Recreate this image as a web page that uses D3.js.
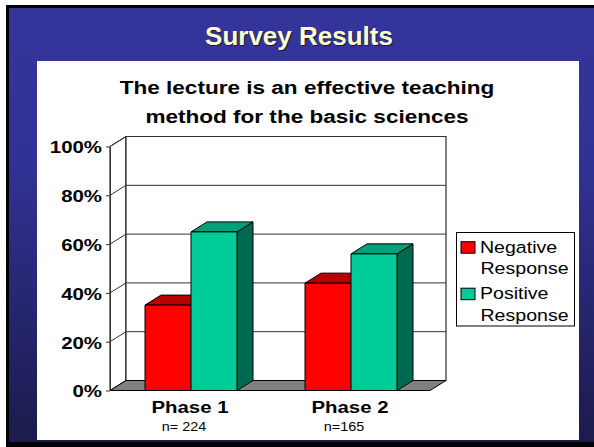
<!DOCTYPE html>
<html><head><meta charset="utf-8">
<script src="https://cdn.jsdelivr.net/npm/d3@7"></script>
<style>html,body{margin:0;padding:0;background:#fff;} svg{display:block}</style>
</head><body>
<script>
// ---- data ----
const categories = ["Phase 1", "Phase 2"];
const sampleSizes = ["n= 224", "n=165"];
const seriesNames = ["Negative Response", "Positive Response"];
const negativeValues = [35, 44];
const positiveValues = [65, 56];
const yTicks = [0, 20, 40, 60, 80, 100];
const slideTitle = "Survey Results";
const chartTitleLines = ["The lecture is an effective teaching", "method for the basic sciences"];

// ---- layout ----
const W = 594, H = 447;
const FONT = "'Liberation Sans', Arial, Helvetica, sans-serif";
const SX = 1.2;           // horizontal stretch of the embedded chart
const DX = 16, DY = 10;   // 3D depth offsets
const plotLeft = 110, plotRight = 430;

const svg = d3.select("body").append("svg").attr("width", W).attr("height", H)
  .style("font-family", FONT);

const defs = svg.append("defs");
const grad = defs.append("linearGradient").attr("id", "bg")
  .attr("x1", 0).attr("y1", 0).attr("x2", 0).attr("y2", 1);
grad.append("stop").attr("offset", "0%").attr("stop-color", "#34349a");
grad.append("stop").attr("offset", "35%").attr("stop-color", "#323296");
grad.append("stop").attr("offset", "100%").attr("stop-color", "#1b1b4c");

// slide frame
svg.append("rect").attr("x", 6).attr("y", 5).attr("width", 600).attr("height", 442).attr("fill", "#000");
svg.append("rect").attr("x", 9).attr("y", 8).attr("width", 600).attr("height", 434).attr("fill", "url(#bg)");

// slide title
svg.append("text").attr("x", 300).attr("y", 45.5).attr("text-anchor", "middle")
  .style("font-size", "26px").style("font-weight", "bold").attr("fill", "#15153f").text(slideTitle);
svg.append("text").attr("x", 299).attr("y", 44.5).attr("text-anchor", "middle")
  .style("font-size", "26px").style("font-weight", "bold").attr("fill", "#ffffcc").text(slideTitle);

// white panel
svg.append("rect").attr("x", 37).attr("y", 61).attr("width", 542).attr("height", 379).attr("fill", "#fff");

function stext(g, x, y, str, size, weight, anchor) {
  return g.append("text")
    .attr("transform", `translate(${x},${y}) scale(${SX},1)`)
    .attr("text-anchor", anchor)
    .style("font-size", size + "px").style("font-weight", weight)
    .attr("fill", "#000").text(str);
}

const chart = svg.append("g");

// chart title
stext(chart, 307, 94, chartTitleLines[0], 18.8, "bold", "middle");
stext(chart, 307, 122.5, chartTitleLines[1], 18.8, "bold", "middle");

// scales
const y = d3.scaleLinear().domain([0, 100]).range([390.5, 146.5]);
const x0 = d3.scaleBand().domain(categories).range([plotLeft, plotRight]).padding(0);
const x1 = d3.scaleBand().domain(seriesNames).range([35, 127]).padding(0);
const colors = {
  front: ["#ff0000", "#00cc99"],
  top: ["#b80000", "#00a07a"],
  side: ["#800000", "#006a50"]
};

// walls
const y0 = y(0), yTop = y(100);
chart.append("polygon")
  .attr("points", [[plotLeft, yTop], [plotLeft + DX, yTop - DY], [plotLeft + DX, y0 - DY], [plotLeft, y0]].join(" "))
  .attr("fill", "#fff").attr("stroke", "#000").attr("stroke-width", 1);
chart.append("rect")
  .attr("x", plotLeft + DX).attr("y", yTop - DY)
  .attr("width", plotRight - plotLeft).attr("height", y0 - yTop)
  .attr("fill", "#fff").attr("stroke", "#000").attr("stroke-width", 1);

// gridlines
const grid = chart.append("g").attr("stroke", "#333").attr("stroke-width", 1);
yTicks.filter(t => t > 0).forEach(t => {
  grid.append("line").attr("x1", plotLeft + DX).attr("x2", plotRight + DX)
    .attr("y1", y(t) - DY).attr("y2", y(t) - DY);
  grid.append("line").attr("x1", plotLeft).attr("x2", plotLeft + DX)
    .attr("y1", y(t)).attr("y2", y(t) - DY);
});

// floor
chart.append("polygon")
  .attr("points", [[plotLeft, y0], [plotRight, y0], [plotRight + DX, y0 - DY], [plotLeft + DX, y0 - DY]].join(" "))
  .attr("fill", "#808080").attr("stroke", "#000").attr("stroke-width", 1);

// y axis
const yAxis = d3.axisLeft(y).tickValues(yTicks).tickFormat(d => d + "%")
  .tickSize(4).tickSizeOuter(0).tickPadding(4 / SX * 1.0 - 0.3);
const ax = chart.append("g").attr("transform", `translate(${plotLeft},0)`).call(yAxis);
ax.select(".domain").attr("stroke", "#333");
ax.selectAll(".tick line").attr("stroke", "#333");
ax.selectAll(".tick text")
  .attr("x", -8 / SX).attr("dy", "0.38em")
  .attr("transform", `scale(${SX},1)`)
  .style("font-family", FONT).style("font-size", "17px").style("font-weight", "bold").attr("fill", "#000");

// bars
const seriesValues = [negativeValues, positiveValues];
categories.forEach((cat, ci) => {
  seriesNames.forEach((s, si) => {
    const v = seriesValues[si][ci];
    const xa = x0(cat) + x1(s), xb = xa + x1.bandwidth();
    const yt = y(v);
    const g = chart.append("g").attr("stroke", "#000").attr("stroke-width", 1).attr("stroke-linejoin", "round");
    g.append("polygon")
      .attr("points", [[xb, yt], [xb + DX, yt - DY], [xb + DX, y0 - DY], [xb, y0]].join(" "))
      .attr("fill", colors.side[si]);
    g.append("polygon")
      .attr("points", [[xa, yt], [xa + DX, yt - DY], [xb + DX, yt - DY], [xb, yt]].join(" "))
      .attr("fill", colors.top[si]);
    g.append("rect").attr("x", xa).attr("y", yt).attr("width", xb - xa).attr("height", y0 - yt)
      .attr("fill", colors.front[si]);
  });
});

// category labels
categories.forEach((cat, ci) => {
  const cx = x0(cat) + x0.bandwidth() / 2;
  stext(chart, cx, 413, cat, 17, "bold", "middle");
  stext(chart, cx - 6, 431, sampleSizes[ci], 12, "normal", "middle");
});

// legend
const lg = chart.append("g");
lg.append("rect").attr("x", 456.5).attr("y", 232.5).attr("width", 118).attr("height", 93.5)
  .attr("fill", "#fff").attr("stroke", "#000").attr("stroke-width", 1);
seriesNames.forEach((s, i) => {
  const top = 241.7 + i * 46.5;
  lg.append("rect").attr("x", 461).attr("y", top).attr("width", 14).attr("height", 11.5)
    .attr("fill", colors.front[i]).attr("stroke", "#000").attr("stroke-width", 1);
  const parts = s.split(" ");
  stext(lg, 480, top + 10.8, parts[0], 16.3, "normal", "start");
  stext(lg, 480.5, top + 32.3, parts[1], 16.3, "normal", "start");
});
</script>
</body></html>
